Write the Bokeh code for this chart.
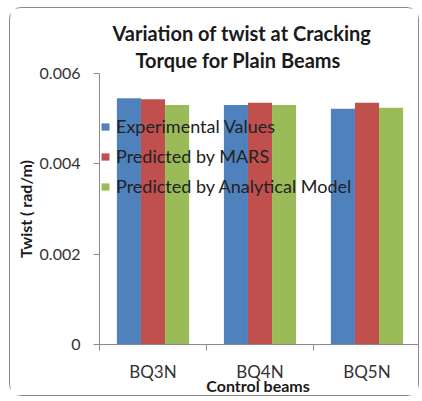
from bokeh.plotting import figure
from bokeh.models import ColumnDataSource, Range1d, FixedTicker, Legend, LegendItem, Title
from bokeh.transform import dodge
from bokeh.embed import file_html
from bokeh.resources import INLINE

categories = ["BQ3N", "BQ4N", "BQ5N"]
experimental = [0.00545, 0.00530, 0.00522]
mars = [0.00543, 0.00535, 0.00535]
analytical = [0.00530, 0.00530, 0.00524]
series_names = ["Experimental Values", "Predicted by MARS", "Predicted by Analytical Model"]
y_ticks = [0, 0.002, 0.004, 0.006]
y_tick_labels = ["0", "0.002", "0.004", "0.006"]
title_lines = ["Variation of twist at Cracking", "Torque for Plain Beams"]
x_title = "Control  beams"
y_title = "Twist ( rad/m)"

colors = ["#4F81BD", "#C0504D", "#9BBB59"]
FONT = "Lato"
AXIS_COLOR = "#8a8a8a"

pos = [i + 0.5 for i in range(len(categories))]
boundaries = [float(i) for i in range(len(categories) + 1)]
source = ColumnDataSource(dict(pos=pos, exp=experimental, mars=mars, ana=analytical))

p = figure(width=410, height=389, x_range=Range1d(0, len(categories)), y_range=Range1d(0, 0.006),
           output_backend="svg", toolbar_location=None, title=None,
           min_border_left=89, min_border_right=0, min_border_top=65, min_border_bottom=20,
           styles={"border": "1px solid #8a8a8a", "border-radius": "12px"})
p.margin = (7, 0, 0, 9)
p.outline_line_color = None
p.grid.visible = False
p.background_fill_color = "white"
p.border_fill_color = "white"

bw = 0.225
renderers = []
for col, off, c in zip(["exp", "mars", "ana"], [-bw, 0, bw], colors):
    r = p.vbar(x=dodge("pos", off), top=col, width=bw, bottom=0, source=source,
               fill_color=c, line_color=None)
    renderers.append(r)

legend = Legend(items=[LegendItem(label=n, renderers=[r]) for n, r in zip(series_names, renderers)],
                location=(1, 147), glyph_width=10, glyph_height=9, label_standoff=6,
                spacing=8, padding=0, margin=0, border_line_color=None,
                background_fill_alpha=0, label_text_font=FONT, label_text_font_size="18px",
                label_text_color="#222222", label_height=20)
p.add_layout(legend)

p.add_layout(Title(text=title_lines[1], align="left", offset=36, standoff=3,
                   text_font=FONT, text_font_size="20px", text_font_style="bold",
                   text_color="#1a1a1a"), "above")
p.add_layout(Title(text=title_lines[0], align="left", offset=13, standoff=0,
                   text_font=FONT, text_font_size="20px", text_font_style="bold",
                   text_color="#1a1a1a"), "above")

xa = p.xaxis[0]
xa.ticker = FixedTicker(ticks=pos, minor_ticks=boundaries)
xa.major_label_overrides = {pos[i]: categories[i] for i in range(len(categories))}
xa.major_tick_out = 0
xa.major_tick_in = 0
xa.minor_tick_out = 6
xa.minor_tick_in = 0
xa.minor_tick_line_color = AXIS_COLOR
xa.axis_line_color = AXIS_COLOR
xa.major_label_standoff = 10
xa.major_label_text_font = FONT
xa.major_label_text_font_size = "17px"
xa.major_label_text_color = "#333333"
xa.axis_label = x_title
xa.axis_label_standoff = -9
xa.axis_label_text_font = FONT
xa.axis_label_text_font_size = "16px"
xa.axis_label_text_font_style = "bold"
xa.axis_label_text_color = "#1a1a1a"

ya = p.yaxis[0]
ya.ticker = FixedTicker(ticks=y_ticks, minor_ticks=[])
ya.major_label_overrides = {y_ticks[i]: y_tick_labels[i] for i in range(len(y_ticks))}
ya.major_tick_out = 6
ya.major_tick_in = 0
ya.major_tick_line_color = AXIS_COLOR
ya.minor_tick_line_color = None
ya.axis_line_color = AXIS_COLOR
ya.major_label_standoff = 13
ya.major_label_text_font = FONT
ya.major_label_text_font_size = "16px"
ya.major_label_text_color = "#333333"
ya.axis_label = y_title
ya.axis_label_standoff = 2
ya.axis_label_text_font = FONT
ya.axis_label_text_font_size = "16px"
ya.axis_label_text_font_style = "bold"
ya.axis_label_text_color = "#1a1a1a"

open("out.html", "w").write(file_html(p, INLINE))
